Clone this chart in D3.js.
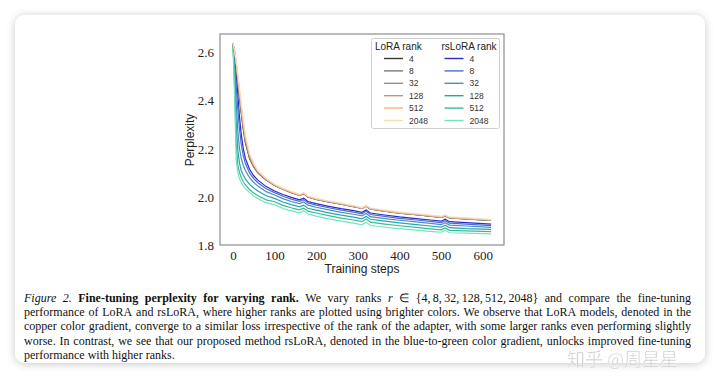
<!DOCTYPE html>
<html>
<head>
<meta charset="utf-8">
<script src="https://cdn.jsdelivr.net/npm/d3@7"></script>
<style>
  body { margin: 0; background: #ffffff; }
  svg { display: block; }
</style>
</head>
<body>
<svg id="fig" width="720" height="386"></svg>
<script>
// training steps
var steps = [0,4,8,12,16,20,25,30,40,50,60,80,100,120,140,160,170,180,200,230,260,290,310,320,330,360,400,440,480,500,510,520,560,620]

var ranks = ["4","8","32","128","512","2048"]

// LoRA perplexity, ranks 4 .. 2048
var lora4    = [2.640,2.600,2.540,2.470,2.410,2.350,2.280,2.225,2.160,2.125,2.100,2.070,2.048,2.032,2.018,2.007,2.013,2.000,1.990,1.979,1.970,1.960,1.952,1.962,1.950,1.942,1.933,1.926,1.919,1.915,1.922,1.913,1.909,1.902]
var lora8    = [2.640,2.602,2.545,2.476,2.416,2.356,2.286,2.230,2.163,2.127,2.101,2.071,2.049,2.032,2.019,2.007,2.014,2.000,1.990,1.979,1.970,1.960,1.952,1.961,1.950,1.942,1.933,1.926,1.919,1.915,1.921,1.913,1.909,1.902]
var lora32   = [2.640,2.604,2.550,2.482,2.422,2.362,2.292,2.235,2.166,2.129,2.102,2.072,2.049,2.033,2.019,2.008,2.014,2.001,1.991,1.979,1.970,1.960,1.953,1.962,1.950,1.942,1.934,1.926,1.919,1.915,1.922,1.913,1.909,1.902]
var lora128  = [2.640,2.606,2.555,2.490,2.430,2.370,2.300,2.242,2.170,2.132,2.104,2.073,2.050,2.033,2.020,2.008,2.015,2.001,1.991,1.980,1.971,1.961,1.953,1.962,1.951,1.943,1.934,1.927,1.920,1.916,1.922,1.914,1.910,1.903]
var lora512  = [2.640,2.608,2.560,2.497,2.438,2.378,2.308,2.248,2.175,2.135,2.106,2.075,2.051,2.034,2.021,2.009,2.016,2.002,1.992,1.981,1.972,1.962,1.954,1.963,1.952,1.944,1.935,1.928,1.921,1.917,1.923,1.915,1.911,1.904]
var lora2048 = [2.640,2.610,2.565,2.505,2.447,2.388,2.318,2.256,2.181,2.139,2.109,2.077,2.053,2.036,2.023,2.011,2.018,2.004,1.994,1.983,1.974,1.964,1.956,1.965,1.954,1.946,1.937,1.930,1.923,1.919,1.925,1.917,1.913,1.906]

// rsLoRA perplexity, ranks 4 .. 2048
var rs4    = [2.640,2.590,2.510,2.420,2.330,2.260,2.200,2.160,2.115,2.088,2.070,2.043,2.025,2.010,1.998,1.988,1.995,1.981,1.972,1.961,1.951,1.943,1.936,1.946,1.933,1.926,1.917,1.910,1.903,1.899,1.907,1.897,1.893,1.887]
var rs8    = [2.640,2.570,2.460,2.360,2.280,2.220,2.170,2.140,2.100,2.076,2.059,2.034,2.018,2.003,1.991,1.982,1.989,1.975,1.966,1.955,1.945,1.937,1.930,1.940,1.927,1.920,1.911,1.904,1.897,1.893,1.901,1.891,1.887,1.881]
var rs32   = [2.640,2.540,2.390,2.270,2.200,2.160,2.130,2.110,2.080,2.060,2.045,2.022,2.008,1.993,1.981,1.972,1.979,1.966,1.957,1.946,1.936,1.928,1.921,1.931,1.918,1.911,1.903,1.896,1.889,1.885,1.893,1.883,1.879,1.873]
var rs128  = [2.640,2.500,2.300,2.190,2.140,2.110,2.090,2.075,2.052,2.037,2.025,2.005,1.994,1.979,1.968,1.959,1.966,1.953,1.945,1.934,1.924,1.916,1.909,1.919,1.907,1.900,1.892,1.885,1.878,1.874,1.882,1.872,1.868,1.865]
var rs512  = [2.640,2.460,2.220,2.130,2.100,2.080,2.062,2.050,2.030,2.016,2.005,1.988,1.980,1.965,1.955,1.946,1.953,1.941,1.933,1.922,1.912,1.904,1.897,1.908,1.895,1.888,1.880,1.873,1.866,1.863,1.871,1.861,1.859,1.856]
var rs2048 = [2.640,2.420,2.150,2.100,2.075,2.060,2.045,2.035,2.018,2.004,1.993,1.975,1.968,1.952,1.942,1.934,1.942,1.929,1.920,1.909,1.899,1.891,1.884,1.895,1.881,1.875,1.868,1.862,1.856,1.853,1.861,1.851,1.849,1.846]

var loraSeries = [lora4, lora8, lora32, lora128, lora512, lora2048]
var rsSeries = [rs4, rs8, rs32, rs128, rs512, rs2048]

var xTicks = [0,100,200,300,400,500,600]
var yTicks = [1.8,2.0,2.2,2.4,2.6]

var loraColors = ["#3a3a3a","#7a7a7a","#9a8c84","#c49478","#f3b68c","#f7dcb8"]
var rsColors = ["#2b2bc4","#4c6bd6","#4b8cc8","#2aa3ad","#3cb895","#6ee6c2"]

var caption = [
  [["Figure","i"],["2.","i"],["Fine-tuning","b"],["perplexity","b"],["for","b"],["varying","b"],["rank.","b"],["We",""],["vary",""],["ranks",""],["r","i"],["\u2208",""],["{4,\u20098,\u200932,\u2009128,\u2009512,\u20092048}",""],["and",""],["compare",""],["the",""],["fine-tuning",""]],
  "performance of LoRA and rsLoRA, where higher ranks are plotted using brighter colors. We observe that LoRA models, denoted in the",
  "copper color gradient, converge to a similar loss irrespective of the rank of the adapter, with some larger ranks even performing slightly",
  "worse. In contrast, we see that our proposed method rsLoRA, denoted in the blue-to-green color gradient, unlocks improved fine-tuning",
  "performance with higher ranks."
]

var svg = d3.select("#fig")

var defs = svg.append("defs")
var shadow = defs.append("filter").attr("id","shadow")
    .attr("x","-10%").attr("y","-10%").attr("width","120%").attr("height","120%")
shadow.append("feDropShadow")
    .attr("dx",0).attr("dy",1)
    .attr("stdDeviation",4)
    .attr("flood-color","#000")
    .attr("flood-opacity",0.22)

// card
svg.append("rect")
    .attr("x",15).attr("y",15)
    .attr("width",690).attr("height",348)
    .attr("rx",10)
    .attr("fill","#fff")
    .attr("filter","url(#shadow)")

// plot box (window.top is read-only, so keep these in an object)
var box = {left: 220, right: 504, top: 34, bottom: 245}

var x = d3.scaleLinear().domain([-31, 651]).range([box.left, box.right])
var y = d3.scaleLinear().domain([1.8, 2.678]).range([box.bottom, box.top])

defs.append("clipPath").attr("id","plotclip")
    .append("rect")
    .attr("x",box.left).attr("y",box.top)
    .attr("width",box.right-box.left).attr("height",box.bottom-box.top)

var line = d3.line()
    .x((d,i) => x(steps[i]))
    .y(d => y(d))

var plot = svg.append("g").attr("clip-path","url(#plotclip)")

plot.selectAll("path.rs")
    .data(rsSeries)
    .enter()
    .append("path")
    .attr("class","rs")
    .attr("d", d => line(d))
    .attr("fill","none")
    .attr("stroke",(d,i) => rsColors[i])
    .attr("stroke-width",1.2)

plot.selectAll("path.lora")
    .data(loraSeries)
    .enter()
    .append("path")
    .attr("class","lora")
    .attr("d", d => line(d))
    .attr("fill","none")
    .attr("stroke",(d,i) => loraColors[i])
    .attr("stroke-width",1.2)

// frame
svg.append("rect")
    .attr("x",box.left).attr("y",box.top)
    .attr("width",box.right-box.left).attr("height",box.bottom-box.top)
    .attr("fill","none")
    .attr("stroke","#8e8e8e")
    .attr("stroke-width",1.2)

// axes
svg.append("g")
    .attr("transform","translate(" + box.left + ",0)")
    .call(d3.axisLeft(y).tickValues(yTicks).tickSize(0).tickPadding(6).tickFormat(d3.format(".1f")))
svg.append("g")
    .attr("transform","translate(0," + box.bottom + ")")
    .call(d3.axisBottom(x).tickValues(xTicks).tickSize(0).tickPadding(6))
svg.selectAll(".domain").remove()
svg.selectAll(".tick text")
    .attr("font-family","'Liberation Serif', serif")
    .attr("font-size",13)
    .attr("fill","#222")

svg.append("text")
    .attr("x",362).attr("y",273)
    .attr("text-anchor","middle")
    .attr("font-family","'Liberation Sans', sans-serif")
    .attr("font-size",12)
    .attr("fill","#222")
    .text("Training steps")

svg.append("text")
    .attr("transform","translate(194,140) rotate(-90)")
    .attr("text-anchor","middle")
    .attr("font-family","'Liberation Sans', sans-serif")
    .attr("font-size",12)
    .attr("fill","#222")
    .text("Perplexity")

// legend
var leg = svg.append("g")
leg.append("rect")
    .attr("x",371.5).attr("y",38.5)
    .attr("width",128).attr("height",90)
    .attr("rx",2)
    .attr("fill","#fff")
    .attr("stroke","#d0d0d0")
    .attr("stroke-width",1)

var legCols = [
  {title:"LoRA rank", tx:375, hx:384, lx:409, colors:loraColors},
  {title:"rsLoRA rank", tx:441.5, hx:444.5, lx:469.5, colors:rsColors}
]
legCols.forEach(function(c) {
    leg.append("text")
        .attr("x",c.tx).attr("y",49.5)
        .attr("font-family","'Liberation Sans', sans-serif")
        .attr("font-size",10)
        .attr("fill","#222")
        .text(c.title)
    var rows = leg.append("g").selectAll("g")
        .data(ranks)
        .enter()
        .append("g")
        .attr("transform",(d,i) => "translate(0," + (58.5 + i*12.4) + ")")
    rows.append("line")
        .attr("x1",c.hx).attr("x2",c.hx + 19)
        .attr("stroke",(d,i) => c.colors[i])
        .attr("stroke-width",1.4)
    rows.append("text")
        .attr("x",c.lx).attr("y",3)
        .attr("font-family","'Liberation Sans', sans-serif")
        .attr("font-size",8.5)
        .attr("fill","#333")
        .text(d => d)
})

// caption, justified by word
var capLeft = 24, capRight = 691, capFont = 12
var baselines = [302, 316.2, 330.4, 344.6, 358.8]
caption.forEach(function(ln, li) {
    var words = typeof ln === "string" ? ln.split(" ").map(w => [w,""]) : ln
    var g = svg.append("g")
    var nodes = words.map(function(w) {
        return g.append("text")
            .attr("y",baselines[li])
            .attr("font-family","'Liberation Serif', 'Times New Roman', serif")
            .attr("font-size",capFont)
            .attr("fill","#111")
            .attr("font-style", w[1] === "i" ? "italic" : "normal")
            .attr("font-weight", w[1] === "b" ? "bold" : "normal")
            .text(w[0])
    })
    var widths = nodes.map(n => n.node().getComputedTextLength())
    var total = d3.sum(widths)
    var last = li === caption.length - 1
    var gap = last ? capFont*0.25 : (capRight - capLeft - total) / (nodes.length - 1)
    var pos = capLeft
    nodes.forEach(function(n, i) {
        n.attr("x",pos)
        pos += widths[i] + gap
    })
})

// watermark
svg.append("text")
    .attr("x",567).attr("y",366)
    .attr("font-family","'Noto Sans CJK SC', sans-serif")
    .attr("font-size",18)
    .attr("fill","#c4c4c4")
    .attr("stroke","#ffffff")
    .attr("stroke-width",0.4)
    .attr("opacity",0.85)
    .text("知乎 @周星星")
</script>
</body>
</html>
